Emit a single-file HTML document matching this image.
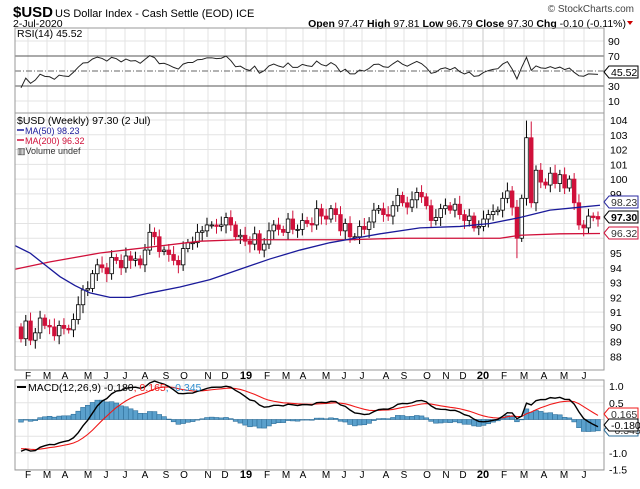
<!DOCTYPE html>
<html><head><meta charset="utf-8">
<style>
html,body{margin:0;padding:0;background:#fff;}
body{width:640px;height:484px;overflow:hidden;font-family:"Liberation Sans",sans-serif;}
svg text{font-family:"Liberation Sans",sans-serif;}
</style></head>
<body>
<svg id="c" width="640" height="484" xmlns="http://www.w3.org/2000/svg">
<text x="13" y="17" font-size="15" font-weight="bold" fill="#000">$USD</text>
<text x="55" y="17" font-size="11" fill="#000">US Dollar Index - Cash Settle (EOD) ICE</text>
<text x="634" y="12" font-size="10" fill="#444" text-anchor="end">© StockCharts.com</text>
<text x="13" y="27" font-size="10.5" fill="#000">2-Jul-2020</text>
<text x="626" y="27" font-size="10.5" fill="#000" text-anchor="end"><tspan font-weight="bold">Open</tspan> 97.47 <tspan font-weight="bold">High</tspan> 97.81 <tspan font-weight="bold">Low</tspan> 96.79 <tspan font-weight="bold">Close</tspan> 97.30 <tspan font-weight="bold">Chg</tspan> -0.10 (-0.11%) </text>
<polygon points="627,21 633,21 630,25" fill="#c00"/>
</svg>
<script>
var S=document.getElementById('c'),NS='http://www.w3.org/2000/svg';
function el(t,a,txt){var e=document.createElementNS(NS,t);for(var k in a)e.setAttribute(k,a[k]);if(txt!==undefined)e.textContent=txt;S.appendChild(e);return e;}
var L=15,R=604;
var P={rsi:[28,113],main:[113,370],macd:[380,470]};
var mx=[28,47,65,88,106,125,145,166,184,208,225,246,267,286,303,326,344,362,386,404,427,446,463,483,504,524,544,564,584];
var ml=['F','M','A','M','J','J','A','S','O','N','D','19','F','M','A','M','J','J','A','S','O','N','D','20','F','M','A','M','J'];
// grids
function vgrid(p){mx.forEach(function(x,i){el('line',{x1:x,x2:x,y1:P[p][0],y2:P[p][1],stroke:(ml[i]=='19'||ml[i]=='20')?'#c8c8c8':'#e3e3e3','stroke-width':1});});}
['rsi','main','macd'].forEach(vgrid);
var yr=function(v){return 56+(70-v)*0.75;};
[90,10].forEach(function(v){el('line',{x1:L,x2:R,y1:yr(v),y2:yr(v),stroke:'#e3e3e3'});});
var yp=function(p){return 120+(104-p)*14.78;};
for(var p=88;p<=104;p++)el('line',{x1:L,x2:R,y1:yp(p),y2:yp(p),stroke:'#e3e3e3'});
var ym=function(v){return 419.5-v*33.4;};
[1,0.5,0,-0.5,-1,-1.5].forEach(function(v){el('line',{x1:L,x2:R,y1:ym(v),y2:ym(v),stroke:'#e3e3e3'});});
el('line',{x1:L,x2:R,y1:yr(70),y2:yr(70),stroke:'#555'});
el('line',{x1:L,x2:R,y1:yr(30),y2:yr(30),stroke:'#555'});
el('line',{x1:L,x2:R,y1:yr(50),y2:yr(50),stroke:'#666','stroke-dasharray':'6,2,1,2'});
// data
var pre=[];for(var i=0;i<40;i++){pre.push(95.5-i*0.14+Math.sin(i*1.7)*0.4);}
var C=[89.2,90.4,89.1,89.6,90.6, 90.1,90.0,89.4,90.1, 89.9,89.8,90.5,91.5, 92.5,92.6,93.6,94.2, 94.0,93.6,94.7,94.5, 94.0,94.8,94.5,94.6,94.2, 95.2,96.4,96.1,95.1, 95.2,94.9,94.5,94.2, 95.3,95.7,95.7,96.4, 96.5,96.9,96.9,96.8, 96.9,97.4,96.9,96.1, 96.2,95.8,95.6,96.3,95.2, 95.6,96.5,96.9,96.6, 96.4,97.3,96.6,96.6, 97.2,97.0,96.9,98.0, 97.5,97.3,98.0,97.6, 96.5,97.0,96.1,96.1, 96.8,96.6,97.1,97.9,98.0, 97.6,97.5,98.2,98.9, 98.4,98.1,98.6,99.1, 98.8,98.2,97.2,97.4, 98.0,98.2,97.9,98.3, 97.6,97.2,97.5,96.7, 96.8,97.3,97.6,97.8, 97.9,98.7,99.2,98.1, 96.0,98.7,102.8,98.4, 100.6,99.8,99.6,100.4, 99.7,100.3,99.4,100.0,98.4, 96.9,96.7,97.5,97.4, 97.30];
var X=function(i){return 21+i*(598-21)/(C.length-1);};
// candles
var prev=90.0;
C.forEach(function(c,i){
  var o=(i==C.length-1)?97.47:prev; var hi=Math.max(o,c)+0.25+((i*7)%5)*0.08, lo=Math.min(o,c)-0.25-((i*3)%5)*0.08;
  if(i==104)lo=94.65; if(i==106)hi=103.96; if(i==107)hi=103.9; if(i==C.length-1){hi=97.81;lo=96.79;}
  var x=X(i),dn=c<o,col=dn?'#d0103a':'#000';
  el('line',{x1:x,x2:x,y1:yp(hi),y2:yp(lo),stroke:col,'stroke-width':1});
  var t=yp(Math.max(o,c)),b=yp(Math.min(o,c));if(b-t<1)b=t+1;
  el('rect',{x:x-1.8,y:t,width:3.6,height:b-t,fill:dn?'#d0103a':'#fff',stroke:col,'stroke-width':0.8});
  prev=c;
});
function pl(pts,col,w){el('polyline',{points:pts.map(function(q){return q[0]+','+yp(q[1]);}).join(' '),fill:'none',stroke:col,'stroke-width':w||1.3});}
pl([[15,93.9],[50,94.4],[100,95.0],[150,95.4],[200,95.8],[240,95.9],[300,95.9],[350,95.9],[400,96.0],[450,96.0],[500,96.0],[520,96.2],[560,96.3],[600,96.32]],'#d0103a');
pl([[15,95.5],[30,95.0],[45,94.2],[60,93.4],[75,92.8],[90,92.3],[110,92.0],[130,92.0],[150,92.3],[180,92.7],[210,93.2],[240,93.9],[270,94.6],[300,95.2],[330,95.7],[355,96.0],[380,96.3],[420,96.7],[460,96.8],[490,97.0],[520,97.4],[550,97.9],[580,98.1],[600,98.23]],'#1a1a9a');
// RSI
var all=pre.concat(C),g=0,l=0,rsi=[];
for(var i=1;i<all.length;i++){var d=all[i]-all[i-1];var up=d>0?d:0,dn=d<0?-d:0;if(i<=14){g+=up/14;l+=dn/14;}else{g=(g*13+up)/14;l=(l*13+dn)/14;}rsi.push(l==0?100:100-100/(1+g/l));}
var rs=rsi.slice(rsi.length-C.length);rs[rs.length-1]=45.52;
el('polyline',{points:rs.map(function(v,i){return X(i)+','+yr(Math.max(20,Math.min(80,v)));}).join(' '),fill:'none',stroke:'#222','stroke-width':1});
// MACD
function ema(a,n){var k=2/(n+1),r=[a[0]];for(var i=1;i<a.length;i++)r.push(a[i]*k+r[i-1]*(1-k));return r;}
var e12=ema(all,12),e26=ema(all,26),m=e12.map(function(v,i){return v-e26[i];}),sg=ema(m,9);
var off=all.length-C.length,M=m.slice(off),SG=sg.slice(off);
var fm=-0.180/M[M.length-1];
M.forEach(function(v,i){var h=v-SG[i];var y0=ym(0),y1=ym(h);el('rect',{x:X(i)-2.4,y:Math.min(y0,y1),width:4.8,height:Math.max(0.6,Math.abs(y1-y0)),fill:'#5aa0cc',stroke:'#2f6f9a','stroke-width':0.6});});
el('polyline',{points:SG.map(function(v,i){return X(i)+','+ym(v);}).join(' '),fill:'none',stroke:'#f01818','stroke-width':1.1});
el('polyline',{points:M.map(function(v,i){return X(i)+','+ym(v);}).join(' '),fill:'none',stroke:'#000','stroke-width':1.4});
// panel borders
['rsi','main','macd'].forEach(function(p){el('rect',{x:L,y:P[p][0],width:R-L,height:P[p][1]-P[p][0],fill:'none',stroke:'#9a9a9a','stroke-width':1});});
// labels
function tx(x,y,s,o){var a={x:x,y:y,'font-size':o&&o.fs||10.5,fill:o&&o.fill||'#000'};if(o&&o.anchor)a['text-anchor']=o.anchor;if(o&&o.bold)a['font-weight']='bold';return el('text',a,s);}
[90,70,30,10].forEach(function(v){tx(608,yr(v)+4,''+v);});
[104,103,102,101,100,99,95,94,93,92,91,90,89,88].forEach(function(v){tx(610,yp(v)+4,''+v);});
[['1.0',1],['0.5',0.5],['-1.0',-1],['-1.5',-1.5]].forEach(function(a){tx(609,ym(a[1])+4,a[0]);});
mx.forEach(function(x,i){var b=(ml[i]=='19'||ml[i]=='20');tx(x,379,ml[i],{anchor:'middle',bold:b,fs:b?11:10});tx(x,478,ml[i],{anchor:'middle',bold:b,fs:b?11:10});});
function tag(y,s,col,bold){el('polygon',{points:'604,'+y+' 609,'+(y-6)+' 638,'+(y-6)+' 638,'+(y+6)+' 609,'+(y+6),fill:'#fff',stroke:col,'stroke-width':1});tx(611,y+4,s,{fill:bold?'#000':col=='#000'?'#000':'#333',bold:bold,fs:10.5});}
tag(72,'45.52','#000');
tag(202,'98.23','#2a2aa0');
tag(233,'96.32','#d0103a');
tag(217,'97.30','#000',true);
tag(414,'0.165','#f01818');
tag(430,'-0.345','#2f6f9a');
tag(425,'-0.180','#000');
// legends
tx(17,37,'RSI(14) 45.52',{fs:10.5});
tx(17,124,'$USD (Weekly) 97.30 (2 Jul)',{fs:10.5});
el('line',{x1:17,x2:24,y1:130,y2:130,stroke:'#1a1a9a','stroke-width':1.5});tx(25,134,'MA(50) 98.23',{fs:9,fill:'#1a1a9a'});
el('line',{x1:17,x2:24,y1:140,y2:140,stroke:'#d0103a','stroke-width':1.5});tx(25,144,'MA(200) 96.32',{fs:9,fill:'#d0103a'});
tx(17,154,'▥Volume undef',{fs:9,fill:'#333'});
el('line',{x1:17,x2:26,y1:387,y2:387,stroke:'#000','stroke-width':2});
var t=tx(28,391,'',{fs:10.5});t.innerHTML='MACD(12,26,9) -0.180<tspan fill="#f01818">, 0.165</tspan><tspan fill="#2f8fd0">, -0.345</tspan>';
</script>
</body></html>
